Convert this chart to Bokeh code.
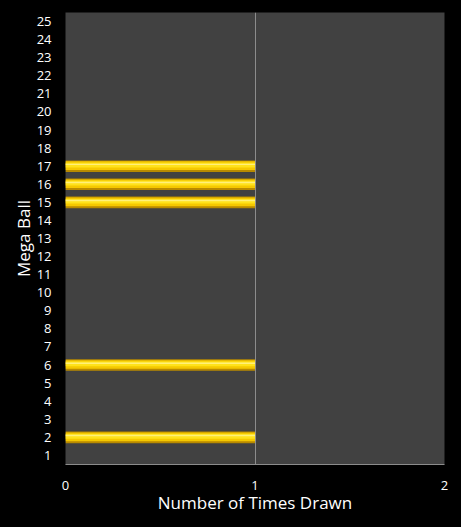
from bokeh.plotting import figure
from bokeh.models import FactorRange, FixedTicker, ColumnDataSource
from bokeh.transform import dodge
from bokeh.embed import file_html
from bokeh.resources import INLINE

balls = [str(i) for i in range(1, 26)]
counts = [0, 1, 0, 0, 0, 1, 0, 0, 0, 0, 0, 0, 0, 0, 1, 1, 1, 0, 0, 0, 0, 0, 0, 0, 0]
x_ticks = [0, 1, 2]

src = ColumnDataSource(dict(ball=balls, count=counts))

p = figure(width=445, height=508, y_range=FactorRange(*balls), x_range=(0, 2),
           output_backend="svg", toolbar_location=None,
           background_fill_color="#414141", border_fill_color="#000000",
           min_border_left=40, min_border_right=9, min_border_top=4, min_border_bottom=40)
p.outline_line_color = None

# bar layers to imitate the gradient
p.hbar(y="ball", left=0, right="count", height=0.64, source=src,
       fill_color="#B88A00", line_color=None)
p.hbar(y=dodge("ball", 0.03, range=p.y_range), left=0, right="count", height=0.48, source=src,
       fill_color="#F5C800", line_color=None)
p.hbar(y=dodge("ball", 0.06, range=p.y_range), left=0, right="count", height=0.26, source=src,
       fill_color="#FFE21A", line_color=None)
p.hbar(y=dodge("ball", 0.1, range=p.y_range), left=0, right="count", height=0.08, source=src,
       fill_color="#FFF07A", line_color=None)

p.xaxis.ticker = FixedTicker(ticks=x_ticks)
p.xgrid.ticker = FixedTicker(ticks=[1, 2])
p.xgrid.grid_line_color = "#8C8C8C"
p.xgrid.grid_line_width = 1
p.ygrid.grid_line_color = None

for ax in (p.xaxis, p.yaxis):
    ax.major_tick_line_color = None
    ax.minor_tick_line_color = None
    ax.major_label_text_color = "#FFFFFF"
    ax.major_label_text_font = "Open Sans"
    ax.major_label_text_font_size = "13px"
    ax.axis_label_text_color = "#FFFFFF"
    ax.axis_label_text_font = "Open Sans"
    ax.axis_label_text_font_size = "17px"
    ax.axis_label_text_font_style = "normal"

p.xaxis.axis_line_color = "#8C8C8C"
p.yaxis.axis_line_color = None
p.xaxis.axis_label = "Number of Times Drawn"
p.yaxis.axis_label = "Mega Ball"
p.xaxis.major_label_standoff = 10
p.xaxis.axis_label_standoff = -2
p.yaxis.major_label_standoff = 8
p.yaxis.axis_label_standoff = -1

html = file_html(p, INLINE)
html = html.replace("</head>", "<style>html,body{background:#000000;}body{margin:8px;}</style></head>", 1)
open("out.html", "w").write(html)
